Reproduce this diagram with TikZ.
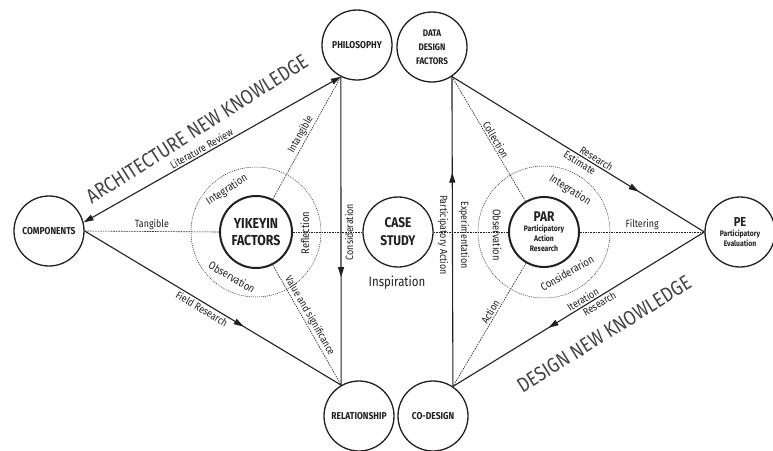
\documentclass[tikz,border=0pt]{standalone}
\usepackage{fontspec}
\setmainfont{Fira Sans}[FakeStretch=0.85]
\usetikzlibrary{arrows.meta,decorations.markings,calc}
\definecolor{ink}{HTML}{231F20}
\tikzset{
  main node/.style={circle,draw=ink,line width=1.3pt,fill=white,minimum size=70pt,inner sep=0pt,align=center,text=ink,font=\bfseries\fontsize{10}{12}\selectfont},
  core node/.style={main node,line width=2pt,font=\bfseries\fontsize{14.5}{17}\selectfont},
  ring/.style={draw=ink,line width=0.5pt,dash pattern=on 1pt off 1pt},
  flow/.style={draw=ink,line width=1.1pt},
  link/.style={draw=ink,line width=0.6pt,dash pattern=on 1.6pt off 1pt},
  tag/.style={font=\fontsize{10.5}{12}\selectfont,text=ink,inner sep=1.5pt},
  ringtag/.style={tag,font=\fontsize{11}{12}\selectfont},
  banner/.style={font=\fontsize{20.5}{22}\selectfont,text=ink!85},
  midarrow/.style={postaction={decorate},decoration={markings,mark=at position #1 with {\arrow{Triangle[length=10pt,width=6pt]}}}}
}
\begin{document}
\begin{tikzpicture}[x=1pt,y=-1pt]
  \useasboundingbox (0,0) rectangle (773,450);
  % circles
  \path (49,231)  node[main node] (comp) {COMPONENTS}
        (357,45)  node[main node] (phil) {PHILOSOPHY}
        (432,47)  node[main node,font=\bfseries\fontsize{9.5}{14}\selectfont] (ddf) {DATA\\DESIGN\\FACTORS}
        (256,232) node[core node,minimum size=72pt] (yik) {YIKEYIN\\FACTORS}
        (398,232) node[main node,font=\bfseries\fontsize{14}{18}\selectfont] (case) {CASE\\STUDY}
        (544,232) node[core node,font=\bfseries\fontsize{8}{10}\selectfont] (par) {{\fontsize{14}{14}\selectfont PAR}\\Participatory\\Action\\Research}
        (740,232) node[main node,font=\bfseries\fontsize{8}{10}\selectfont] (pe) {{\fontsize{13}{13}\selectfont PE}\\Participatory\\Evaluation}
        (359,416) node[main node] (rel) {RELATIONSHIP}
        (433,416) node[main node] (cod) {CO-DESIGN};

  \draw[ring] (yik) circle[radius=65];
  \draw[ring] (par) circle[radius=66];

  % left side
  \draw[flow,{Triangle[length=10pt,width=6pt]}-{Triangle[length=10pt,width=6pt]}] (comp.14) -- node[tag,sloped,above,pos=.47] {Literature Review} (phil.243);
  \draw[link] (yik.63) -- node[tag,sloped,above] {Intangible} (phil.243);
  \draw[flow,midarrow=.65] (phil.243) -- (rel.120);
  \draw[flow,midarrow=.62] (comp.east) -- node[tag,sloped,below,pos=.47] {Field Research} (rel.120);
  \draw[link] (yik.-63) -- node[tag,sloped,above,pos=.45] {Value and significance} (rel.120);
  \node[tag,rotate=90] (cons) at (349,232) {Consideration};

  % middle line
  \draw[link] (comp.east) -- node[tag,above] {Tangible} (yik.west);
  \draw[link] (yik.east) -- (case.west);
  \draw[link] (case.east) -- (par.west);
  \draw[link] (par.east) -- node[tag,above] {Filtering} (pe.west);

  % right side
  \draw[flow,midarrow=.69] (cod.56) -- (ddf.-56);
  \node[tag,rotate=-90] (pact) at (443,235) {Participatory Action};
  \node[tag,rotate=-90] (expe) at (464,235) {Experimentation};
  \draw[link] (ddf.-56) -- node[tag,sloped,above,pos=.53] {Collection} (par.121);
  \draw[flow,midarrow=.74] (ddf.-56) -- node[tag,sloped,above,pos=.56] {Research}
                                       node[tag,sloped,below,pos=.52] {Estimate} (pe.west);
  \draw[flow,midarrow=.62] (pe.west) -- node[tag,sloped,above,pos=.47] {Iteration}
                                      node[tag,sloped,below,pos=.43] {Research} (cod.56);
  \draw[link] (par.240) -- node[tag,sloped,above,pos=.42] {Action} (cod.56);

  % ring labels
  \node[ringtag,rotate=33]  (yint) at ($(yik)+(-29,-42)$) {Integration};
  \node[ringtag,rotate=-30] (yobs) at ($(yik)+(-24,45)$) {Observation};
  \node[ringtag,rotate=90]  (yref) at ($(yik)+(49,1)$) {Reflection};
  \node[ringtag,rotate=-32] (pint) at ($(par)+(26,-42)$) {Integration};
  \node[ringtag,rotate=-90] (pobs) at ($(par)+(-47,3)$) {Observation};
  \node[ringtag,rotate=30]  (pcon) at ($(par)+(23,41)$) {Considerarion};

  \node[font=\fontsize{13.5}{15}\selectfont,text=ink] (insp) at (397,283) {Inspiration};

  \node[banner,rotate=32.5] (arch) at (197,129) {ARCHITECTURE NEW KNOWLEDGE};
  \node[banner,rotate=32] (dsgn) at (604,334) {DESIGN NEW KNOWLEDGE};
\end{tikzpicture}
\end{document}
